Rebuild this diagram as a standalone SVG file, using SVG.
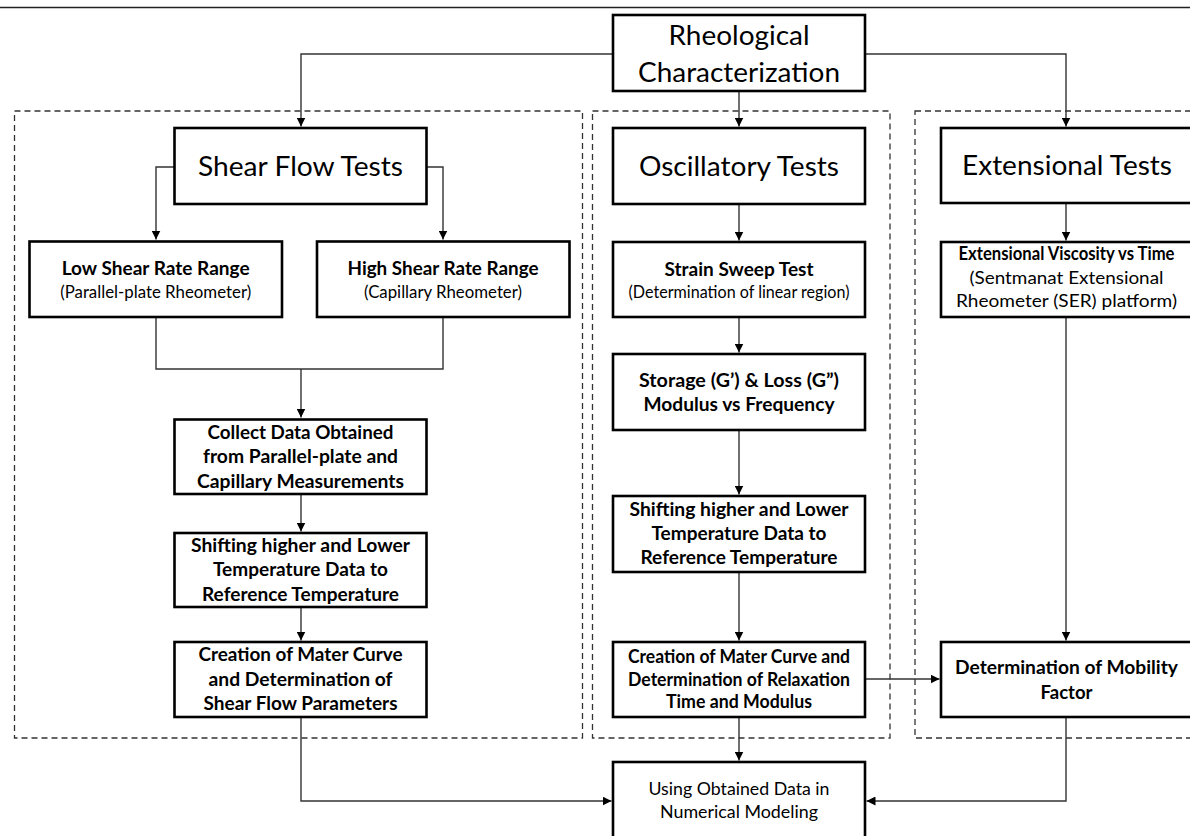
<svg xmlns="http://www.w3.org/2000/svg" width="1190" height="836" viewBox="0 0 1190 836">
<style>
text{font-family:Lato,"Open Sans","Liberation Sans",sans-serif;text-anchor:middle;fill:#000}
.big{font-size:27px}
.b{font-size:18px;font-weight:bold}
.s{font-size:16.5px}
.r{font-size:18px}
.bx{fill:#fff;stroke:#000;stroke-width:2.6}
.dash{fill:none;stroke:#333;stroke-width:1.3;stroke-dasharray:6 4}
.c{fill:none;stroke:#333;stroke-width:1.4}
</style>
<defs>
<marker id="ah" viewBox="0 0 10 10" refX="10" refY="5" markerWidth="9" markerHeight="9" markerUnits="userSpaceOnUse" orient="auto"><path d="M0,0 L10,5 L0,10 z" fill="#000"/></marker>
</defs>
<rect width="1190" height="836" fill="#fff"/>
<line x1="0" y1="7.5" x2="1190" y2="7.5" stroke="#222" stroke-width="1.5"/>

<g id="groups">
<rect class="dash" x="14.5" y="111" width="568" height="627"/>
<rect class="dash" x="592.5" y="111" width="297.5" height="627"/>
<rect class="dash" x="915" y="111" width="290" height="627"/>
</g>

<g id="connectors">
<path class="c" d="M613,54 H301 V126.5" marker-end="url(#ah)"/>
<path class="c" d="M739,91 V126.5" marker-end="url(#ah)"/>
<path class="c" d="M865,54 H1066 V126.5" marker-end="url(#ah)"/>
<path class="c" d="M174,167 H156 V239.5" marker-end="url(#ah)"/>
<path class="c" d="M427,167 H443 V239.5" marker-end="url(#ah)"/>
<path class="c" d="M156,317 V369 H443 V317"/>
<path class="c" d="M301,369 V417.5" marker-end="url(#ah)"/>
<path class="c" d="M301,494 V531.5" marker-end="url(#ah)"/>
<path class="c" d="M301,607 V640.5" marker-end="url(#ah)"/>
<path class="c" d="M301,717 V801 H611.5" marker-end="url(#ah)"/>
<path class="c" d="M739,204 V240.5" marker-end="url(#ah)"/>
<path class="c" d="M739,317 V352.5" marker-end="url(#ah)"/>
<path class="c" d="M739,430 V494.5" marker-end="url(#ah)"/>
<path class="c" d="M739,572 V640.5" marker-end="url(#ah)"/>
<path class="c" d="M739,717 V760.5" marker-end="url(#ah)"/>
<path class="c" d="M865,679 H939.5" marker-end="url(#ah)"/>
<path class="c" d="M1066,204 V240.5" marker-end="url(#ah)"/>
<path class="c" d="M1066,317 V640.5" marker-end="url(#ah)"/>
<path class="c" d="M1066,717 V801 H866.5" marker-end="url(#ah)"/>
</g>

<g id="rheo">
<rect class="bx" x="613" y="15" width="252" height="76"/>
<text class="big" x="739" y="45" textLength="141" lengthAdjust="spacingAndGlyphs">Rheological</text>
<text class="big" x="739" y="81.5" textLength="202" lengthAdjust="spacingAndGlyphs">Characterization</text>
</g>

<g id="shear">
<rect class="bx" x="174.5" y="128" width="252" height="76"/>
<text class="big" x="300.5" y="175.5" textLength="205" lengthAdjust="spacingAndGlyphs">Shear Flow Tests</text>
</g>

<g id="osc">
<rect class="bx" x="613" y="128" width="252" height="76"/>
<text class="big" x="739" y="175.5" textLength="200" lengthAdjust="spacingAndGlyphs">Oscillatory Tests</text>
</g>

<g id="ext">
<rect class="bx" x="941" y="128" width="252" height="75"/>
<text class="big" x="1067" y="174.5" textLength="210" lengthAdjust="spacingAndGlyphs">Extensional Tests</text>
</g>

<g id="low">
<rect class="bx" x="29.5" y="241.5" width="252.5" height="75.5"/>
<text class="b" x="155.7" y="275" textLength="188" lengthAdjust="spacingAndGlyphs">Low Shear Rate Range</text>
<text class="s" x="155.7" y="297.5" textLength="191" lengthAdjust="spacingAndGlyphs">(Parallel-plate Rheometer)</text>
</g>

<g id="high">
<rect class="bx" x="317" y="241.5" width="252.5" height="75.5"/>
<text class="b" x="443" y="275" textLength="191" lengthAdjust="spacingAndGlyphs">High Shear Rate Range</text>
<text class="s" x="443" y="297.5" textLength="158" lengthAdjust="spacingAndGlyphs">(Capillary Rheometer)</text>
</g>

<g id="collect">
<rect class="bx" x="174.5" y="419.5" width="252" height="74.5"/>
<text class="b" x="300.5" y="438.5" textLength="186" lengthAdjust="spacingAndGlyphs">Collect Data Obtained</text>
<text class="b" x="300.5" y="463" textLength="195" lengthAdjust="spacingAndGlyphs">from Parallel-plate and</text>
<text class="b" x="300.5" y="487.5" textLength="207" lengthAdjust="spacingAndGlyphs">Capillary Measurements</text>
</g>

<g id="shift1">
<rect class="bx" x="174.5" y="533" width="252" height="74"/>
<text class="b" x="300.5" y="552" textLength="219" lengthAdjust="spacingAndGlyphs">Shifting higher and Lower</text>
<text class="b" x="300.5" y="576" textLength="175" lengthAdjust="spacingAndGlyphs">Temperature Data to</text>
<text class="b" x="300.5" y="600.5" textLength="197" lengthAdjust="spacingAndGlyphs">Reference Temperature</text>
</g>

<g id="create1">
<rect class="bx" x="174.5" y="642" width="252" height="75"/>
<text class="b" x="300.5" y="661" textLength="204" lengthAdjust="spacingAndGlyphs">Creation of Mater Curve</text>
<text class="b" x="300.5" y="685.5" textLength="184" lengthAdjust="spacingAndGlyphs">and Determination of</text>
<text class="b" x="300.5" y="709.5" textLength="194" lengthAdjust="spacingAndGlyphs">Shear Flow Parameters</text>
</g>

<g id="strain">
<rect class="bx" x="613" y="242" width="252" height="75"/>
<text class="b" x="739" y="275.5" textLength="149" lengthAdjust="spacingAndGlyphs">Strain Sweep Test</text>
<text class="s" x="739" y="298" textLength="221" lengthAdjust="spacingAndGlyphs">(Determination of linear region)</text>
</g>

<g id="storage">
<rect class="bx" x="613" y="354" width="252" height="76"/>
<text class="b" x="739" y="386.5" textLength="200" lengthAdjust="spacingAndGlyphs">Storage (G’) &amp; Loss (G”)</text>
<text class="b" x="739" y="410.5" textLength="191" lengthAdjust="spacingAndGlyphs">Modulus vs Frequency</text>
</g>

<g id="shift2">
<rect class="bx" x="613" y="496" width="252" height="76"/>
<text class="b" x="739" y="516" textLength="219" lengthAdjust="spacingAndGlyphs">Shifting higher and Lower</text>
<text class="b" x="739" y="540" textLength="175" lengthAdjust="spacingAndGlyphs">Temperature Data to</text>
<text class="b" x="739" y="564" textLength="197" lengthAdjust="spacingAndGlyphs">Reference Temperature</text>
</g>

<g id="create2">
<rect class="bx" x="613" y="642" width="252" height="75"/>
<text class="b" x="739" y="663" font-size="18" textLength="222" lengthAdjust="spacingAndGlyphs">Creation of Mater Curve and</text>
<text class="b" x="739" y="685.5" font-size="18" textLength="222" lengthAdjust="spacingAndGlyphs">Determination of Relaxation</text>
<text class="b" x="739" y="708" font-size="18" textLength="146" lengthAdjust="spacingAndGlyphs">Time and Modulus</text>
</g>

<g id="extvisc">
<rect class="bx" x="941" y="242" width="252" height="75"/>
<text class="b" x="1066.5" y="259.5" font-size="17" textLength="216" lengthAdjust="spacingAndGlyphs">Extensional Viscosity vs Time</text>
<text class="r" x="1066.5" y="283.5" textLength="194" lengthAdjust="spacingAndGlyphs">(Sentmanat Extensional</text>
<text class="r" x="1066.5" y="307" textLength="221" lengthAdjust="spacingAndGlyphs">Rheometer (SER) platform)</text>
</g>

<g id="mobility">
<rect class="bx" x="941" y="642" width="252" height="75"/>
<text class="b" x="1066.5" y="674" textLength="223" lengthAdjust="spacingAndGlyphs">Determination of Mobility</text>
<text class="b" x="1066.5" y="698.5" textLength="52" lengthAdjust="spacingAndGlyphs">Factor</text>
</g>

<g id="using">
<rect class="bx" x="613" y="762" width="252" height="78"/>
<text class="r" x="739" y="795" font-size="19" textLength="181" lengthAdjust="spacingAndGlyphs">Using Obtained Data in</text>
<text class="r" x="739" y="817.5" font-size="19" textLength="158" lengthAdjust="spacingAndGlyphs">Numerical Modeling</text>
</g>
</svg>
